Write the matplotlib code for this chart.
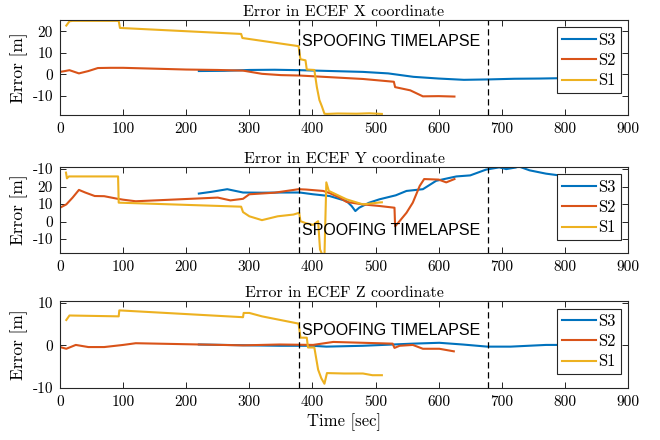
import matplotlib
matplotlib.use("Agg")
import matplotlib.pyplot as plt

# ---- data (time in sec, error in m) ----
x_t_s1 = [10, 15, 20, 93, 95, 287, 289, 378, 381, 389, 391, 403, 407, 411, 415, 419, 423, 440, 470, 490, 510]
x_s1 = [22.7, 24.7, 24.9, 24.9, 21.6, 18.8, 16.9, 13.1, 7.0, 6.5, 2.2, 2.0, -6.0, -12.0, -15.0, -18.4, -18.5, -18.3, -18.4, -18.2, -18.5]
x_t_s2 = [0, 8, 15, 30, 45, 60, 80, 100, 150, 200, 250, 290, 320, 350, 380, 430, 480, 529, 531, 555, 575, 600, 625]
x_s2 = [1.1, 1.5, 1.9, 0.4, 1.5, 2.9, 3.0, 3.0, 2.6, 2.2, 2.0, 1.7, 0.2, -0.4, -0.6, -1.4, -2.2, -3.5, -6.0, -7.5, -10.3, -10.2, -10.4]
x_t_s3 = [220, 260, 300, 340, 380, 430, 480, 520, 540, 560, 600, 640, 680, 720, 760, 800, 850]
x_s3 = [1.5, 1.6, 2.0, 2.1, 1.9, 1.5, 1.1, 0.4, -0.4, -1.2, -2.0, -2.6, -2.4, -2.1, -2.0, -1.8, -1.6]

y_t_s1 = [9.5, 11, 14, 92, 93, 287, 290, 300, 320, 345, 370, 379, 381, 390, 401, 409, 412, 417, 419, 422, 426, 454, 480, 506, 510]
y_s1 = [28, 24.7, 25.8, 25.8, 10.8, 8.5, 5.4, 3.0, 0.8, 3.0, 4.0, 5.0, 0.2, -1.0, -1.9, 0.2, -16, -20, -20, 22.4, 17.5, 12.7, 9.8, 10.9, 11]
y_t_s2 = [0, 10, 20, 30, 40, 55, 70, 90, 100, 120, 250, 270, 290, 300, 340, 378, 390, 417, 427, 443, 454, 480, 506, 530, 531, 538, 549, 559, 570, 577, 600, 612, 625]
y_s2 = [7.9, 9.8, 13.7, 18.1, 16.6, 14.6, 14.5, 13.1, 12.5, 11.6, 13.7, 12.1, 13.0, 15.6, 16.5, 18.5, 18.3, 17.5, 16.3, 13.7, 11.2, 9.8, 8.9, 7.9, -2.7, 0.2, 5.0, 10.8, 20.4, 24.3, 24.0, 22.4, 24.3]
y_t_s3 = [220, 240, 265, 290, 320, 350, 380, 401, 427, 454, 462, 468, 474, 490, 506, 532, 549, 575, 596, 628, 650, 675, 696, 707, 722, 727, 744, 770, 791, 820]
y_s3 = [16.0, 17.0, 18.5, 16.6, 16.5, 16.6, 16.6, 15.6, 14.6, 11.7, 8.9, 6.0, 7.9, 10.8, 12.7, 15.0, 17.5, 18.5, 23.3, 25.8, 26.4, 29.7, 31.0, 30.0, 30.9, 31.5, 29.3, 27.4, 26.4, 25.5]

z_t_s1 = [10, 15, 93, 94, 290, 291, 300, 320, 378, 381, 391, 393, 403, 409, 414, 419, 423, 450, 480, 495, 510]
z_s1 = [5.95, 7.0, 6.8, 8.2, 6.6, 7.6, 7.6, 6.8, 5.1, 1.8, 1.8, -0.5, -0.5, -5.7, -7.7, -9.0, -6.5, -6.6, -6.6, -7.0, -7.0]
z_t_s2 = [0, 10, 25, 45, 70, 100, 120, 290, 348, 401, 433, 480, 527, 530, 538, 559, 575, 601, 624]
z_s2 = [-0.4, -0.8, 0.1, -0.4, -0.4, 0.1, 0.5, 0.0, 0.2, 0.1, 0.8, 0.6, 0.4, -0.6, -0.1, 0.1, -0.8, -0.8, -1.4]
z_t_s3 = [220, 300, 350, 400, 422, 480, 559, 601, 638, 677, 714, 770, 820]
z_s3 = [0.2, 0.0, -0.1, -0.1, -0.3, -0.1, 0.4, 0.6, 0.2, -0.3, -0.3, 0.1, 0.1]

titles = ["Error in ECEF X coordinate", "Error in ECEF Y coordinate", "Error in ECEF Z coordinate"]
spoof_start, spoof_end = 379, 678

C_S3 = "#0072BD"
C_S2 = "#D95319"
C_S1 = "#EDB120"

plt.rcParams["font.family"] = "cmr10"
plt.rcParams["axes.unicode_minus"] = False
plt.rcParams["mathtext.fontset"] = "cm"

fig = plt.figure(figsize=(6.6, 4.4), dpi=100)
W, H = 660, 440
# axes boxes in pixels: (top, bottom)
boxes = [(20, 115), (167, 253), (301, 388)]
left, right = 60, 628

panels = [
    (x_t_s3, x_s3, x_t_s2, x_s2, x_t_s1, x_s1, (-19, 25.3), [-10, 0, 10, 20], ["-10", "0", "10", "20"], 15.5),
    (y_t_s3, y_s3, y_t_s2, y_s2, y_t_s1, y_s1, (-18, 31.2), [-10, 0, 10, 20, 30], ["-10", "0", "10", "20", "-10"], -5.0),
    (z_t_s3, z_s3, z_t_s2, z_s2, z_t_s1, z_s1, (-10, 10.4), [-10, 0, 10], ["-10", "0", "10"], 3.4),
]

for i, (top, bot) in enumerate(boxes):
    ax = fig.add_axes([left / W, 1 - bot / H, (right - left) / W, (bot - top) / H])
    t3, v3, t2, v2, t1, v1, ylim, yt, ytl, ytext = panels[i]
    ax.plot(t3, v3, color=C_S3, lw=1.5, label="S3")
    ax.plot(t2, v2, color=C_S2, lw=1.5, label="S2")
    ax.plot(t1, v1, color=C_S1, lw=1.5, label="S1")
    ax.axvline(spoof_start, color="black", ls=(0, (5, 3)), lw=0.9)
    ax.axvline(spoof_end, color="black", ls=(0, (5, 3)), lw=0.9)
    ax.text(spoof_start + 4, ytext, "SPOOFING TIMELAPSE", family="Liberation Sans",
            fontsize=11.5, va="center", ha="left")
    ax.set_xlim(0, 900)
    ax.set_ylim(*ylim)
    ax.set_xticks(range(0, 901, 100))
    ax.set_yticks(yt)
    ax.set_yticklabels(ytl)
    ax.tick_params(direction="in", top=True, right=True, labelsize=11, length=4, width=0.6, pad=5)
    for sp in ax.spines.values():
        sp.set_linewidth(0.8)
        sp.set_color("#262626")
    ax.set_title(titles[i], fontsize=11.5, pad=3)
    ax.set_ylabel("Error [m]", fontsize=12.5, labelpad=3)
    leg = ax.legend(loc="upper right", fontsize=12, handlelength=2.0, handletextpad=0.15,
                    borderpad=0.3, labelspacing=0.3, fancybox=False, framealpha=1,
                    borderaxespad=0.45)
    leg.get_frame().set_edgecolor("#262626")
    leg.get_frame().set_linewidth(0.8)
    if i == 2:
        ax.set_xlabel("Time [sec]", fontsize=12, labelpad=3)

fig.savefig("out.png", dpi=100)
